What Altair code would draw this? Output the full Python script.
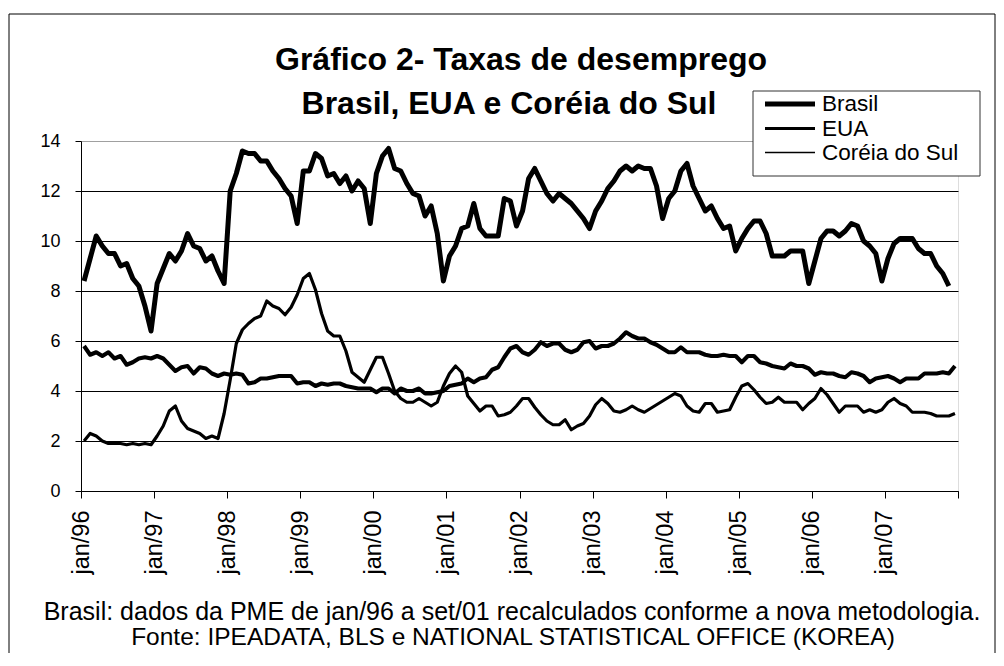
import altair as alt
import pandas as pd

# ---------------- data ----------------
series_names = ["Brasil", "EUA", "Coréia do Sul"]

brasil = [
    8.4, 9.3, 10.2, 9.8, 9.5, 9.5, 9.0, 9.1, 8.5, 8.2, 7.4, 6.4,
    8.3, 8.9, 9.5, 9.2, 9.6, 10.3, 9.8, 9.7, 9.2, 9.4, 8.8, 8.3,
    12.0, 12.7, 13.6, 13.5, 13.5, 13.2, 13.2, 12.8, 12.5, 12.1, 11.8, 10.7,
    12.8, 12.8, 13.5, 13.3, 12.6, 12.7, 12.3, 12.6, 12.0, 12.4, 12.1, 10.7,
    12.7, 13.4, 13.7, 12.9, 12.8, 12.3, 11.9, 11.8, 11.0, 11.4, 10.3, 8.4,
    9.4, 9.8, 10.5, 10.6, 11.5, 10.5, 10.2, 10.2, 10.2, 11.7, 11.6, 10.6,
    11.2, 12.5, 12.9, 12.4, 11.9, 11.6, 11.9, 11.7, 11.5, 11.2, 10.9, 10.5,
    11.2, 11.6, 12.1, 12.4, 12.8, 13.0, 12.8, 13.0, 12.9, 12.9, 12.2, 10.9,
    11.7, 12.0, 12.8, 13.1, 12.2, 11.7, 11.2, 11.4, 10.9, 10.5, 10.6, 9.6,
    10.1, 10.5, 10.8, 10.8, 10.3, 9.4, 9.4, 9.4, 9.6, 9.6, 9.6, 8.3,
    9.2, 10.1, 10.4, 10.4, 10.2, 10.4, 10.7, 10.6, 10.0, 9.8, 9.5, 8.4,
    9.3, 9.9, 10.1, 10.1, 10.1, 9.7, 9.5, 9.5, 9.0, 8.7, 8.2,
]

eua = [
    5.8, 5.45, 5.55, 5.4, 5.55, 5.3, 5.4, 5.05, 5.15, 5.3, 5.35, 5.3,
    5.4, 5.3, 5.05, 4.8, 4.95, 5.0, 4.7, 4.95, 4.9, 4.7, 4.6, 4.7,
    4.65, 4.7, 4.65, 4.3, 4.35, 4.5, 4.5, 4.55, 4.6, 4.6, 4.6, 4.3,
    4.35, 4.35, 4.2, 4.3, 4.25, 4.3, 4.3, 4.2, 4.15, 4.1, 4.1, 4.1,
    3.95, 4.1, 4.1, 3.9, 4.1, 4.0, 4.0, 4.1, 3.9, 3.9, 3.95, 4.0,
    4.2, 4.25, 4.3, 4.5, 4.35, 4.5, 4.55, 4.85, 4.95, 5.35, 5.7, 5.8,
    5.55, 5.45, 5.65, 5.95, 5.8, 5.9, 5.9, 5.65, 5.55, 5.65, 5.95, 6.0,
    5.7, 5.8, 5.8, 5.9, 6.1, 6.35, 6.2, 6.1, 6.1, 5.95, 5.85, 5.7,
    5.55, 5.55, 5.75, 5.55, 5.55, 5.55, 5.45, 5.4, 5.4, 5.45, 5.4, 5.4,
    5.15, 5.4, 5.4, 5.15, 5.1, 5.0, 4.95, 4.9, 5.1, 5.0, 5.0, 4.9,
    4.65, 4.75, 4.7, 4.7, 4.6, 4.55, 4.75, 4.7, 4.6, 4.35, 4.5, 4.55,
    4.6, 4.5, 4.35, 4.5, 4.5, 4.5, 4.7, 4.7, 4.7, 4.75, 4.7, 5.0,
]

coreia = [
    2.0, 2.3, 2.2, 2.0, 1.9, 1.9, 1.9, 1.85, 1.9, 1.85, 1.9, 1.85,
    2.2, 2.6, 3.2, 3.4, 2.8, 2.5, 2.4, 2.3, 2.1, 2.2, 2.1, 3.1,
    4.45, 5.9, 6.45, 6.7, 6.9, 7.0, 7.6, 7.4, 7.3, 7.05, 7.35, 7.85,
    8.5, 8.7, 8.05, 7.1, 6.4, 6.2, 6.2, 5.6, 4.75, 4.55, 4.35, 4.85,
    5.35, 5.35, 4.7, 4.0, 3.7, 3.55, 3.55, 3.7, 3.55, 3.4, 3.55, 4.2,
    4.7, 5.0, 4.75, 3.8, 3.5, 3.2, 3.4, 3.4, 3.0, 3.05, 3.15, 3.4,
    3.7, 3.7, 3.35, 3.05, 2.8, 2.65, 2.65, 2.85, 2.45, 2.6, 2.7, 3.0,
    3.45, 3.7, 3.5, 3.2, 3.15, 3.25, 3.4, 3.25, 3.15, 3.3, 3.45, 3.6,
    3.75, 3.9, 3.8, 3.4, 3.2, 3.15, 3.5, 3.5, 3.15, 3.2, 3.25, 3.75,
    4.2, 4.3, 4.05, 3.75, 3.5, 3.55, 3.75, 3.55, 3.55, 3.55, 3.25, 3.5,
    3.7, 4.1, 3.85, 3.5, 3.15, 3.4, 3.4, 3.4, 3.15, 3.25, 3.15, 3.25,
    3.55, 3.7, 3.5, 3.4, 3.15, 3.15, 3.15, 3.1, 3.0, 3.0, 3.0, 3.1,
]

year_labels = ["jan/96", "jan/97", "jan/98", "jan/99", "jan/00", "jan/01",
               "jan/02", "jan/03", "jan/04", "jan/05", "jan/06", "jan/07", ""]

title_lines = ["Gráfico 2- Taxas de desemprego", "Brasil, EUA e Coréia do Sul"]
footer_lines = [
    "Brasil: dados da PME de jan/96 a set/01 recalculados conforme a nova metodologia.",
    "Fonte: IPEADATA, BLS e NATIONAL STATISTICAL OFFICE (KOREA)",
]

# ---------------- table ----------------
rows = []
for name, vals in zip(series_names, [brasil, eua, coreia]):
    for i, v in enumerate(vals):
        rows.append({"serie": name, "mes": i + 0.5, "taxa": v})
df = pd.DataFrame(rows)

W, H = 877, 350
FONT = "Liberation Sans"
widths = [5, 3.2, 1.3]

label_expr = "[" + ",".join("'%s'" % s for s in year_labels) + "][round(datum.value/12)]"

x_enc = alt.X("mes:Q", scale=alt.Scale(domain=[0, 144], nice=False, zero=False),
              axis=alt.Axis(values=list(range(0, 145, 12)), labelExpr=label_expr, title=None,
                            grid=False, labelAngle=270, labelFontSize=23.5, labelPadding=12,
                            tickSize=7, labelFont=FONT, labelColor="black",
                            domainColor="black", tickColor="black", labelFlush=False))
y_enc = alt.Y("taxa:Q", scale=alt.Scale(domain=[0, 14], nice=False),
              axis=alt.Axis(values=list(range(0, 15, 2)), title=None, grid=True,
                            gridColor=alt.condition("datum.value == 14", alt.value("#a0a0a0"), alt.value("black")),
                            gridWidth=1, labelFontSize=18, labelPadding=15, tickSize=6,
                            labelFont=FONT, labelColor="black", domainColor="black",
                            tickColor="black"))

lines = alt.Chart(df).mark_line(color="black", strokeJoin="round").encode(
    x=x_enc, y=y_enc,
    strokeWidth=alt.StrokeWidth("serie:N", scale=alt.Scale(domain=series_names, range=widths), legend=None),
    detail="serie:N",
    order="mes:Q",
)

# ---------- outer frame (pixel coordinates relative to plot origin) ----------
fl, ft, fr, fb = -72, -127, 914, 525
frame_top = alt.Chart(pd.DataFrame({"k": [0]})).mark_rule(color="black", strokeWidth=1).encode(
    x=alt.value(fl), x2=alt.value(fr), y=alt.value(ft))
frame_left = alt.Chart(pd.DataFrame({"k": [0]})).mark_rule(color="black", strokeWidth=1).encode(
    x=alt.value(fl), y=alt.value(ft), y2=alt.value(fb))
frame_right = alt.Chart(pd.DataFrame({"k": [0]})).mark_rule(color="black", strokeWidth=1).encode(
    x=alt.value(fr), y=alt.value(ft), y2=alt.value(fb))

# ---------- title ----------
title_pos = [(440, -81), (428, -37)]
title_layers = []
for txt, (tx, ty) in zip(title_lines, title_pos):
    title_layers.append(
        alt.Chart(pd.DataFrame({"t": [txt]})).mark_text(
            font=FONT, fontSize=32, fontWeight="bold", color="black",
            align="center", baseline="middle").encode(
            text="t:N", x=alt.value(tx), y=alt.value(ty)))

# ---------- footer ----------
footer_pos = [(431, 471, 25), (432, 497, 24.5)]
footer_layers = []
for txt, (tx, ty, fs) in zip(footer_lines, footer_pos):
    footer_layers.append(
        alt.Chart(pd.DataFrame({"t": [txt]})).mark_text(
            font=FONT, fontSize=fs, color="black", align="center", baseline="middle").encode(
            text="t:N", x=alt.value(tx), y=alt.value(ty)))

# ---------- legend ----------
lx0, ly0, lx1, ly1 = 672, -50, 899, 35
legend_box = alt.Chart(pd.DataFrame({"k": [0]})).mark_rect(
    fill="white", stroke="#333333", strokeWidth=1).encode(
    x=alt.value(lx0), x2=alt.value(lx1), y=alt.value(ly0), y2=alt.value(ly1))
legend_layers = [legend_box]
row_y = [-37, -12.5, 11.5]
for name, w, ry in zip(series_names, widths, row_y):
    legend_layers.append(
        alt.Chart(pd.DataFrame({"s": [name]})).mark_rule(color="black", strokeWidth=w).encode(
            x=alt.value(684), x2=alt.value(734), y=alt.value(ry)))
    legend_layers.append(
        alt.Chart(pd.DataFrame({"s": [name]})).mark_text(
            font=FONT, fontSize=22.5, color="black", align="left", baseline="middle").encode(
            text="s:N", x=alt.value(741), y=alt.value(ry)))

chart = alt.layer(
    lines, frame_top, frame_left, frame_right, *title_layers, *footer_layers, *legend_layers
).properties(
    width=W, height=H,
    padding={"left": 73, "top": 133, "right": 38, "bottom": 162},
    autosize=alt.AutoSizeParams(type="none"),
).configure_view(stroke="#a0a0a0", strokeWidth=1).configure(background="white")

chart.save("out.html", embed_options={"renderer": "svg", "actions": False})
